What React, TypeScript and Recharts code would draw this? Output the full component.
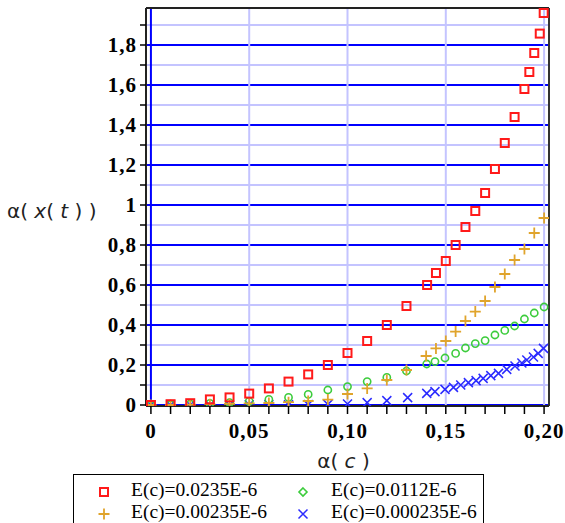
import { ScatterChart, Scatter, XAxis, YAxis, ReferenceLine, Legend } from "recharts";

// series values
const RED_X = [0, 0.01, 0.02, 0.03, 0.04, 0.05, 0.06, 0.07, 0.08, 0.09, 0.1, 0.11, 0.12, 0.13, 0.1405, 0.145, 0.15, 0.155, 0.16, 0.165, 0.17, 0.175, 0.18, 0.185, 0.19, 0.1925, 0.195, 0.1978, 0.1998];
const RED_Y = [0, 0.004, 0.009, 0.028, 0.038, 0.057, 0.083, 0.117, 0.153, 0.2, 0.26, 0.32, 0.4, 0.495, 0.6, 0.66, 0.72, 0.8, 0.89, 0.97, 1.06, 1.18, 1.31, 1.44, 1.58, 1.665, 1.76, 1.857, 1.96];

const ORANGE_X = [0, 0.01, 0.02, 0.03, 0.04, 0.05, 0.06, 0.07, 0.08, 0.09, 0.1, 0.11, 0.12, 0.13, 0.14, 0.145, 0.15, 0.155, 0.16, 0.165, 0.17, 0.175, 0.18, 0.185, 0.19, 0.195, 0.2];
const ORANGE_Y = [0, 0, 0.002, 0.004, 0.006, 0.008, 0.01, 0.014, 0.02, 0.027, 0.055, 0.083, 0.125, 0.175, 0.245, 0.283, 0.32, 0.367, 0.42, 0.467, 0.52, 0.59, 0.655, 0.725, 0.78, 0.86, 0.935];

const GREEN_X = [0, 0.01, 0.02, 0.03, 0.04, 0.05, 0.06, 0.07, 0.08, 0.09, 0.1, 0.11, 0.12, 0.13, 0.1403, 0.1445, 0.1496, 0.155, 0.16, 0.165, 0.17, 0.175, 0.18, 0.185, 0.19, 0.195, 0.2];
const GREEN_Y = [0, 0.002, 0.005, 0.008, 0.012, 0.018, 0.028, 0.038, 0.053, 0.075, 0.092, 0.117, 0.138, 0.17, 0.205, 0.217, 0.235, 0.258, 0.285, 0.307, 0.322, 0.35, 0.373, 0.395, 0.43, 0.46, 0.49];

const BLUE_X = [0, 0.01, 0.02, 0.03, 0.04, 0.05, 0.06, 0.07, 0.08, 0.09, 0.1, 0.11, 0.12, 0.1306, 0.1403, 0.1445, 0.1496, 0.1539, 0.1576, 0.1615, 0.1654, 0.169, 0.1729, 0.1768, 0.181, 0.1852, 0.1887, 0.1912, 0.1946, 0.197, 0.1997];
const BLUE_Y = [0, 0, 0, 0, 0, 0.001, 0.001, 0.001, 0.002, 0.003, 0.005, 0.012, 0.022, 0.037, 0.058, 0.067, 0.078, 0.088, 0.1, 0.112, 0.122, 0.133, 0.147, 0.158, 0.178, 0.195, 0.21, 0.225, 0.24, 0.258, 0.283];

const SERIES_NAMES = ["E(c)=0.0235E-6", "E(c)=0.0112E-6", "E(c)=0.00235E-6", "E(c)=0.000235E-6"];

const X_TICKS = [0, 0.01, 0.02, 0.03, 0.04, 0.05, 0.06, 0.07, 0.08, 0.09, 0.1, 0.11, 0.12, 0.13, 0.14, 0.15, 0.16, 0.17, 0.18, 0.19, 0.2];
const Y_TICKS = [0, 0.1, 0.2, 0.3, 0.4, 0.5, 0.6, 0.7, 0.8, 0.9, 1, 1.1, 1.2, 1.3, 1.4, 1.5, 1.6, 1.7, 1.8, 1.9];
const X_GRID = [0, 0.05, 0.1, 0.15, 0.2];

const X_MIN = -0.0025;
const X_MAX = 0.2025;
const Y_MIN = -0.005;
const Y_MAX = 1.985;

const RED = "#ff1a1a";
const ORANGE = "#e0a42c";
const GREEN = "#3ccc3c";
const BLUE = "#2b2bff";
const GRID_DARK = "#0000ff";
const GRID_LIGHT = "#c4c4ff";

const toPoints = (xs: number[], ys: number[]) => xs.map((x, i) => ({ x, y: ys[i] }));

const redData = toPoints(RED_X, RED_Y);
const orangeData = toPoints(ORANGE_X, ORANGE_Y);
const greenData = toPoints(GREEN_X, GREEN_Y);
const blueData = toPoints(BLUE_X, BLUE_Y);

const tickFont = { fontFamily: "'Liberation Serif', serif", fontWeight: 700, fontSize: 21, letterSpacing: 1 };

const fmtX = (v: number) => (v === 0 ? "0" : v.toFixed(2).replace(".", ","));
const fmtY = (v: number) => {
  const r = Math.round(v * 10) / 10;
  return Number.isInteger(r) ? String(r) : r.toFixed(1).replace(".", ",");
};

const XTick = (props: any) => {
  const { x, y, payload } = props;
  const v = payload.value;
  const major = Math.round(v * 100) % 5 === 0;
  return (
    <g>
      <line x1={x} x2={x} y1={y} y2={y + 8} stroke="#000" strokeWidth={1.5} />
      {major && (
        <text x={x} y={y + 32} textAnchor="middle" fill="#000" style={tickFont}>
          {fmtX(v)}
        </text>
      )}
    </g>
  );
};

const YTick = (props: any) => {
  const { x, y, payload } = props;
  const v = payload.value;
  const major = Math.round(v * 10) % 2 === 0;
  return (
    <g>
      <line x1={x - 6} x2={x} y1={y} y2={y} stroke="#000" strokeWidth={1.5} />
      {major && (
        <text x={x - 9} y={y + 7} textAnchor="end" fill="#000" style={tickFont}>
          {fmtY(v)}
        </text>
      )}
    </g>
  );
};

const Square = (p: any) => (
  <rect x={p.cx - 4} y={p.cy - 4} width={8} height={8} fill="none" stroke={RED} strokeWidth={2} />
);
const Plus = (p: any) => (
  <path d={`M${p.cx - 5.5},${p.cy}H${p.cx + 5.5}M${p.cx},${p.cy - 5.5}V${p.cy + 5.5}`} stroke={ORANGE} strokeWidth={1.8} fill="none" />
);
const Ring = (p: any) => (
  <circle cx={p.cx} cy={p.cy} r={3.6} fill="none" stroke={GREEN} strokeWidth={1.6} />
);
const Cross = (p: any) => (
  <path d={`M${p.cx - 4.5},${p.cy - 4.5}L${p.cx + 4.5},${p.cy + 4.5}M${p.cx - 4.5},${p.cy + 4.5}L${p.cx + 4.5},${p.cy - 4.5}`} stroke={BLUE} strokeWidth={1.5} fill="none" />
);

const legendText = { fontFamily: "'Liberation Serif', serif", fontSize: 19.5, color: "#000", position: "absolute" as const, lineHeight: "22px" };

const LegendBox = () => {
  const icons = [
    <svg width={12} height={12}><rect x={2} y={2} width={8} height={8} fill="none" stroke={RED} strokeWidth={2} /></svg>,
    <svg width={12} height={12}><path d="M6,2 L10,6 L6,10 L2,6 Z" fill="none" stroke={GREEN} strokeWidth={1.6} /></svg>,
    <svg width={12} height={12}><path d="M0.5,6H11.5M6,0.5V11.5" stroke={ORANGE} strokeWidth={1.8} /></svg>,
    <svg width={12} height={12}><path d="M1.5,1.5L10.5,10.5M1.5,10.5L10.5,1.5" stroke={BLUE} strokeWidth={1.5} /></svg>,
  ];
  return (
    <div style={{ position: "relative", width: 411, height: 62, boxSizing: "border-box", border: "1.5px solid #000", background: "#fff" }}>
      {SERIES_NAMES.map((name, i) => {
        const col = i % 2;
        const row = Math.floor(i / 2);
        const cy = 16 + row * 22;
        return (
          <div key={name}>
            <div style={{ position: "absolute", left: 24 + col * 199, top: cy - 7, width: 12, height: 12 }}>{icons[i]}</div>
            <div style={{ ...legendText, left: 57 + col * 200, top: cy - 12 }}>{name}</div>
          </div>
        );
      })}
    </div>
  );
};

const titleFont = { fontFamily: "'DejaVu Sans', sans-serif", fontSize: 20, fill: "#222" };

export default function App() {
  return (
    <div style={{ position: "absolute", left: 0, top: 0, width: 565, height: 523, overflow: "hidden", background: "#fff" }}>
      <ScatterChart width={565} height={523} margin={{ top: 8, right: 16, left: 0, bottom: 0 }}>
        <XAxis
          type="number"
          dataKey="x"
          domain={[X_MIN, X_MAX]}
          allowDataOverflow
          ticks={X_TICKS}
          interval={0}
          height={117}
          tickSize={0}
          tickMargin={0}
          tick={<XTick />}
          axisLine={{ stroke: "#222", strokeWidth: 2 }}
          label={{
            content: (props: any) => {
              const vb = props.viewBox;
              return (
                <text x={vb.x + vb.width / 2 - 4} y={468} textAnchor="middle" style={titleFont}>
                  α( <tspan fontStyle="italic">c</tspan> )
                </text>
              );
            },
          }}
        />
        <YAxis
          type="number"
          dataKey="y"
          domain={[Y_MIN, Y_MAX]}
          allowDataOverflow
          ticks={Y_TICKS}
          interval={0}
          width={146}
          tickSize={0}
          tickMargin={0}
          tick={<YTick />}
          axisLine={{ stroke: "#222", strokeWidth: 2 }}
          label={{
            content: () => (
              <text x={7} y={218} textAnchor="start" style={titleFont}>
                α( <tspan fontStyle="italic">x</tspan>( <tspan fontStyle="italic">t</tspan> ) )
              </text>
            ),
          }}
        />
        {Y_TICKS.map((v) => (
          <ReferenceLine key={"h" + v} y={v} stroke={Math.round(v * 10) % 2 === 0 ? GRID_DARK : GRID_LIGHT} strokeWidth={2} />
        ))}
        {X_GRID.map((v) => (
          <ReferenceLine key={"v" + v} x={v} stroke={v === 0 ? GRID_DARK : GRID_LIGHT} strokeWidth={2} />
        ))}
        <ReferenceLine y={Y_MAX} stroke="#222" strokeWidth={2} ifOverflow="visible" />
        <ReferenceLine x={X_MAX} stroke="#333" strokeWidth={2} ifOverflow="visible" />
        <Scatter name={SERIES_NAMES[3]} data={blueData} shape={Cross} isAnimationActive={false} />
        <Scatter name={SERIES_NAMES[1]} data={greenData} shape={Ring} isAnimationActive={false} />
        <Scatter name={SERIES_NAMES[2]} data={orangeData} shape={Plus} isAnimationActive={false} />
        <Scatter name={SERIES_NAMES[0]} data={redData} shape={Square} isAnimationActive={false} />
        <Legend
          layout="horizontal"
          verticalAlign="middle"
          align="center"
          wrapperStyle={{ left: 73, top: 474, width: 411, height: 62 }}
          content={() => <LegendBox />}
        />
      </ScatterChart>
    </div>
  );
}
